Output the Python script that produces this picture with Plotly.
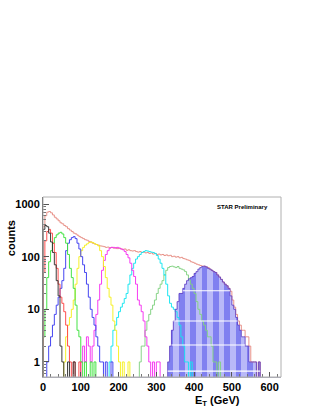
import plotly.graph_objects as go

BIN = 5  # GeV bin width

# start edge (GeV) and bin contents for each histogram (5 GeV bins)
total_start = 0
total_vals = [380, 600, 700, 720, 680, 620, 560, 520, 480, 440, 420, 390, 370, 340, 320, 300,
              280, 270, 255, 240, 230, 220, 210, 205, 195, 190, 180, 175, 170, 165, 160, 158,
              155, 150, 152, 148, 150, 145, 148, 142, 145, 140, 138, 140, 132, 135, 130, 128,
              130, 125, 122, 125, 120, 122, 118, 120, 115, 118, 112, 115, 110, 112, 108, 110,
              105, 108, 104, 106, 100, 102, 98, 100, 95, 97, 92, 90, 87, 85, 80, 78,
              75, 72, 70, 68, 66, 66, 64, 62, 58, 55, 52, 50, 45, 41, 37, 33,
              30, 28, 25, 22, 15, 11, 8, 6, 5, 4, 4, 3, 3, 2, 1, 1, 1, 0, 1]

black_start = 0
black_vals = [330, 390, 370, 280, 190, 120, 70, 35, 18, 2, 1, 0, 0, 1, 0, 0, 1]

red_start = 0
red_vals = [50, 200, 300, 330, 280, 180, 120, 60, 30, 17, 13, 9, 5, 2, 1, 0, 1, 0, 0, 1]

green_start = 0
green_vals = [3, 10, 40, 80, 130, 180, 230, 260, 280, 290, 270, 230, 180, 110, 60, 40,
              25, 12, 4, 3, 1, 0, 1, 0, 0, 1, 0, 1]

blue_start = 10
blue_vals = [1, 2, 3, 5, 8, 12, 17, 25, 35, 60, 130, 180, 210, 230, 240, 220, 180, 140,
             100, 70, 50, 30, 17, 10, 7, 5, 3, 2, 1, 1, 0, 1, 0, 0, 1]

yellow_start = 55
yellow_vals = [1, 3, 5, 7, 10, 15, 30, 60, 100, 130, 150, 165, 175, 185, 190, 185, 175,
               170, 160, 130, 100, 65, 40, 25, 17, 12, 6, 4, 2, 1, 0, 1, 0, 0, 1]

magenta_start = 100
magenta_vals = [1, 2, 1, 3, 2, 1, 2, 4, 8, 15, 30, 55, 85, 110, 130, 145, 150, 150, 145,
                150, 145, 140, 135, 125, 110, 95, 75, 55, 42, 30, 15, 12, 9, 6, 3, 2, 1,
                0, 1, 0, 1, 1]

cyan_start = 175
cyan_vals = [1, 2, 4, 5, 7, 9, 11, 13, 16, 20, 30, 45, 60, 75, 90, 100, 110, 120, 125,
             130, 128, 125, 122, 120, 115, 105, 90, 75, 60, 45, 30, 18, 13, 11, 10, 9, 7,
             5, 3, 2, 1, 1, 0, 1]

lgreen_start = 255
lgreen_vals = [1, 2, 2, 4, 6, 8, 10, 12, 15, 20, 25, 30, 35, 45, 55, 62, 65, 66, 64, 62,
               65, 60, 58, 56, 52, 45, 36, 30, 25, 20, 14, 10, 8, 6, 5, 4, 3, 3, 2, 1, 1,
               0, 1]

fill_start = 330
fill_vals = [1, 2, 4, 6, 10, 14, 20, 20, 25, 30, 35, 38, 40, 42, 48, 52, 58, 62, 65, 66,
             64, 60, 58, 55, 52, 50, 45, 41, 37, 33, 30, 28, 25, 18, 12, 10, 7, 5, 4, 3,
             3, 2, 2, 1, 1, 1, 1, 0, 1]

x_ticks = [0, 100, 200, 300, 400, 500, 600]
y_ticks = [1, 10, 100, 1000]
y_tick_text = ["1", "10", "100", "1000"]

# white stripe artefacts seen inside the filled histogram (counts level)
stripe_levels = [22.5, 6.0, 2.1, 0.67]

FLOOR = 0.05


def step_xy(start, vals):
    xs = [start]
    ys = [FLOOR]
    for i, v in enumerate(vals):
        xs.append(start + i * BIN)
        ys.append(v if v > 0 else FLOOR)
    xs.append(start + len(vals) * BIN)
    ys.append(FLOOR)
    return xs, ys


fig = go.Figure()

# filled histogram (bars)
fill_x = [fill_start + (i + 0.5) * BIN for i in range(len(fill_vals))]
fill_colors = ["#8080f0" if (i // 3) % 2 == 0 else "#b9b9f8" for i in range(len(fill_vals))]
fig.add_trace(go.Bar(x=fill_x, y=[v if v > 0 else None for v in fill_vals], width=BIN,
                     marker=dict(color=fill_colors, line=dict(width=0)), showlegend=False,
                     hoverinfo="skip"))

series = [
    (total_start, total_vals, "rgba(230,135,125,0.9)"),
    (lgreen_start, lgreen_vals, "rgba(130,210,130,0.95)"),
    (cyan_start, cyan_vals, "rgba(20,230,240,0.95)"),
    (magenta_start, magenta_vals, "rgba(245,50,240,0.95)"),
    (yellow_start, yellow_vals, "rgba(245,240,30,0.95)"),
    (blue_start, blue_vals, "rgba(60,60,240,0.95)"),
    (green_start, green_vals, "rgba(60,225,60,0.95)"),
    (red_start, red_vals, "rgba(255,70,70,0.95)"),
    (black_start, black_vals, "rgba(50,50,50,0.95)"),
    (fill_start, fill_vals, "rgba(100,70,200,0.9)"),
]
for start, vals, col in series:
    xs, ys = step_xy(start, vals)
    fig.add_trace(go.Scatter(x=xs, y=ys, mode="lines", line=dict(color=col, width=1, shape="hv"),
                             showlegend=False, hoverinfo="skip"))

# white stripes across the filled histogram
shapes = []
for lvl in stripe_levels:
    idx = [i for i, v in enumerate(fill_vals) if v >= lvl]
    if idx:
        x0 = fill_start + idx[0] * BIN
        x1 = fill_start + (idx[-1] + 1) * BIN
        shapes.append(dict(type="line", xref="x", yref="y", x0=x0, x1=x1, y0=lvl, y1=lvl,
                           line=dict(color="white", width=1.2), layer="above"))
# frame
shapes.append(dict(type="rect", xref="paper", yref="paper", x0=0, x1=1, y0=0, y1=1,
                   line=dict(color="#b0b0b0", width=1), layer="above"))

FONT = "Liberation Sans"
fig.update_layout(
    width=319, height=412,
    margin=dict(l=43, r=38, t=197, b=35, autoexpand=False),
    paper_bgcolor="white", plot_bgcolor="white",
    bargap=0, barmode="overlay",
    hovermode=False,
    shapes=shapes,
    xaxis=dict(range=[0, 630], tickvals=x_ticks, ticks="inside", ticklen=5, tickcolor="#555",
               automargin=False,
               showgrid=False, zeroline=False, showline=True, linecolor="#aab", mirror=False,
               tickfont=dict(family=FONT, size=11, color="black", weight="bold"),
               minor=dict(ticks="inside", ticklen=3, dtick=20, tickcolor="#777", showgrid=False)),
    yaxis=dict(type="log", range=[-0.286, 3.133], tickvals=y_ticks, ticktext=y_tick_text,
               automargin=False,
               ticks="inside", ticklen=6, tickcolor="#555", showgrid=False, zeroline=False,
               showline=True, linecolor="#555",
               tickfont=dict(family=FONT, size=11, color="black", weight="bold"),
               minor=dict(ticks="inside", ticklen=3, tickcolor="#777", dtick="D1", showgrid=False)),
    annotations=[
        dict(text="STAR Preliminary", xref="paper", yref="paper", x=0.955, y=0.945,
             xanchor="right", yanchor="middle", showarrow=False,
             font=dict(family=FONT, size=6, color="black", weight="bold")),
        dict(text="counts", xref="paper", yref="paper", x=-0.134, y=0.772, textangle=-90,
             xanchor="center", yanchor="middle", showarrow=False,
             font=dict(family=FONT, size=11, color="black", weight="bold")),
        dict(text="E<sub>T</sub> (GeV)", xref="paper", yref="paper", x=0.735, y=-0.133,
             xanchor="center", yanchor="middle", showarrow=False,
             font=dict(family=FONT, size=11, color="black", weight="bold")),
    ],
)

fig.write_html("out.html", config={"displayModeBar": False, "staticPlot": True},
               post_script="document.body.style.margin='0';document.body.style.overflow='hidden';")
